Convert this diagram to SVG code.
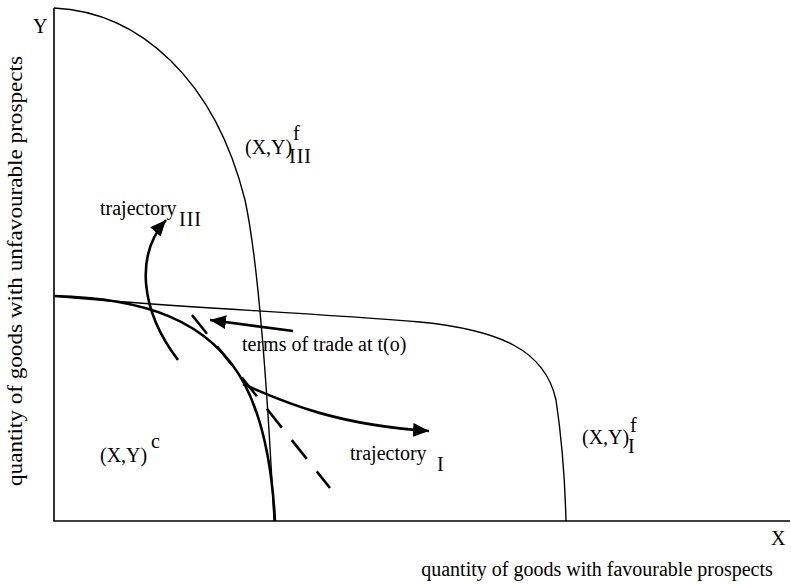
<svg xmlns="http://www.w3.org/2000/svg" width="791" height="584" viewBox="0 0 791 584">
<style>
text{font-family:"Liberation Serif","Times New Roman",serif;font-size:20px;fill:#000}
.thin{fill:none;stroke:#000;stroke-width:1.4}
.thick{fill:none;stroke:#000;stroke-width:2.6}
.axis{fill:none;stroke:#000;stroke-width:1.6}
.sub{font-size:19px}
</style>
<defs>
<marker id="ah" markerUnits="userSpaceOnUse" markerWidth="18" markerHeight="14" refX="16" refY="7" orient="auto">
<path d="M0,0 L16,7 L0,14 z" fill="#000"/>
</marker>
</defs>
<g id="axes">
<path class="axis" d="M54,8 L54,521 L790,521"/>
<text x="33" y="33">Y</text>
<text x="771" y="545">X</text>
<text x="597" y="576" text-anchor="middle">quantity of goods with favourable prospects</text>
<text transform="translate(22,271) rotate(-90)" text-anchor="middle" textLength="430" lengthAdjust="spacingAndGlyphs">quantity of goods with unfavourable prospects</text>
</g>
<g id="frontier-III">
<path class="thin" d="M54,8 C140,12 215,80 245,200 C258,260 268,400 274,521"/>
<text x="245" y="154">(X,Y)</text>
<text x="293" y="140">f</text>
<text x="289" y="163" letter-spacing="1">III</text>
</g>
<g id="frontier-I">
<path class="thin" d="M54,296 C150,306 300,312 420,322 C500,330 545,350 556,400 C562,440 565,480 566,521"/>
<text x="582" y="444">(X,Y)</text>
<text x="630" y="432">f</text>
<text x="628" y="453">I</text>
</g>
<g id="frontier-c">
<path class="thick" d="M54,296 C140,298 210,318 245,385 C262,418 272,465 275,521"/>
<text x="100" y="462">(X,Y)</text>
<text x="151" y="448">c</text>
</g>
<g id="connectors">
<path class="thick" stroke-dasharray="24 16" d="M192,315 L330,488"/>
<path class="thick" d="M293,331 L210,320" marker-end="url(#ah)"/>
<path class="thick" d="M243,384 C290,405 340,425 429,431" marker-end="url(#ah)"/>
<path class="thick" d="M178,360 C140,310 135,255 166,220" marker-end="url(#ah)"/>
</g>
<g id="labels">
<text x="242" y="351">terms of trade at t(o)</text>
<text x="350" y="460">trajectory</text>
<text x="437" y="471">I</text>
<text x="100" y="215">trajectory</text>
<text x="179" y="226" letter-spacing="1">III</text>
</g>
</svg>
